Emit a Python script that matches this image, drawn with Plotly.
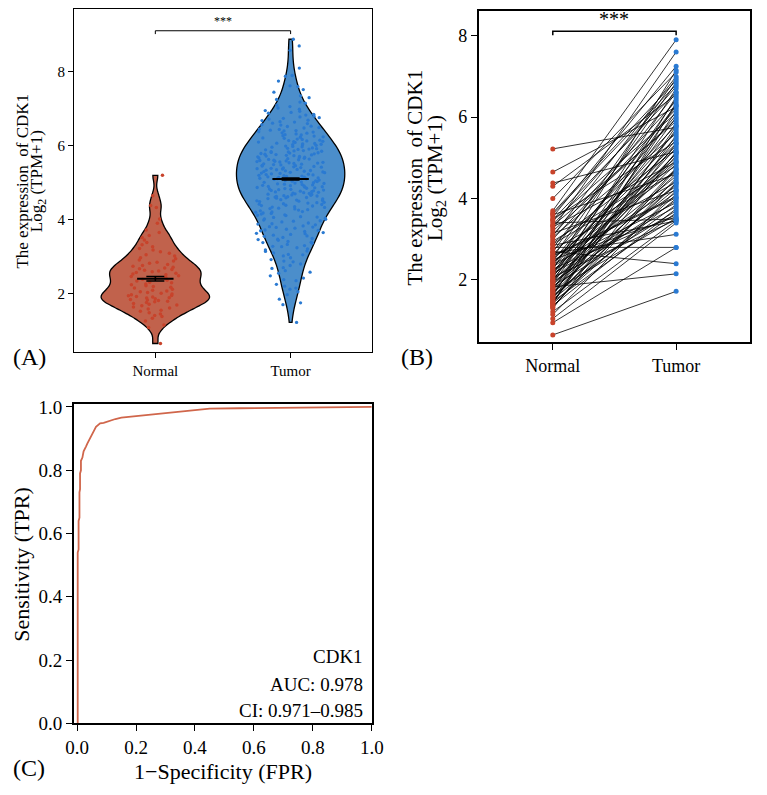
import plotly.graph_objects as go

# ---------------- data ----------------
categories = ["Normal", "Tumor"]

normal_A = [0.65, 1.08, 1.15, 1.26, 1.33, 1.38, 1.41, 1.45, 1.48, 1.52, 1.55, 1.58, 1.61, 1.64,
            1.67, 1.69, 1.71, 1.73, 1.76, 1.78, 1.79, 1.81, 1.83, 1.84, 1.86, 1.88, 1.89, 1.91,
            1.92, 1.94, 1.95, 1.97, 1.99, 2.01, 2.03, 2.05, 2.07, 2.09, 2.12, 2.15, 2.17, 2.19,
            2.21, 2.24, 2.26, 2.29, 2.31, 2.34, 2.36, 2.39, 2.41, 2.44, 2.46, 2.48, 2.51, 2.53,
            2.55, 2.57, 2.59, 2.61, 2.63, 2.65, 2.67, 2.69, 2.71, 2.74, 2.76, 2.79, 2.82, 2.85,
            2.88, 2.91, 2.94, 2.97, 3.02, 3.05, 3.09, 3.13, 3.18, 3.22, 3.27, 3.32, 3.38, 3.45,
            3.52, 3.57, 3.65, 3.72, 3.90, 4.02, 4.33, 4.38, 4.65, 5.20]

tumor_A = [1.22, 1.70, 1.75, 1.85, 1.97, 2.05, 2.12, 2.15, 2.20, 2.25, 2.35, 2.38, 2.42, 2.48,
           2.55, 2.58, 2.62, 2.68, 2.70, 2.76, 2.80, 2.86, 2.88, 2.92, 2.97,
           3.02, 3.05, 3.06, 3.10, 3.14, 3.15, 3.18, 3.21, 3.24, 3.27, 3.28, 3.30, 3.33, 3.36,
           3.38, 3.39, 3.41, 3.44, 3.46, 3.47, 3.49, 3.52, 3.55, 3.56, 3.58, 3.60, 3.62, 3.63,
           3.65, 3.68, 3.70, 3.71, 3.72, 3.74, 3.77, 3.79, 3.80, 3.81, 3.83, 3.86, 3.88, 3.89,
           3.91, 3.94, 3.96, 3.97, 3.99,
           4.01, 4.02, 4.04, 4.06, 4.07, 4.08, 4.11, 4.12, 4.13, 4.15, 4.17, 4.18, 4.20, 4.21,
           4.22, 4.24, 4.26, 4.27, 4.29, 4.30, 4.31, 4.33, 4.34, 4.35, 4.37, 4.38, 4.39, 4.41,
           4.42, 4.43, 4.45, 4.46, 4.47, 4.49, 4.50, 4.51, 4.52, 4.53, 4.54, 4.56, 4.57, 4.58,
           4.59, 4.60, 4.61, 4.62, 4.63, 4.64, 4.65, 4.66, 4.67, 4.68, 4.69, 4.70, 4.71, 4.72,
           4.73, 4.74, 4.75, 4.76, 4.77, 4.78, 4.79, 4.80, 4.81, 4.82, 4.83, 4.84, 4.85, 4.86,
           4.87, 4.88, 4.89, 4.90, 4.91, 4.92, 4.93, 4.94, 4.95, 4.96, 4.97, 4.98, 4.99,
           5.00, 5.01, 5.02, 5.03, 5.04, 5.05, 5.06, 5.07, 5.08, 5.09, 5.10, 5.11, 5.12, 5.13,
           5.14, 5.15, 5.16, 5.17, 5.18, 5.19, 5.20, 5.21, 5.22, 5.23, 5.24, 5.25, 5.26, 5.27,
           5.28, 5.29, 5.30, 5.31, 5.32, 5.33, 5.34, 5.35, 5.36, 5.37, 5.38, 5.39, 5.40, 5.41,
           5.42, 5.43, 5.44, 5.45, 5.46, 5.47, 5.48, 5.49, 5.50, 5.51, 5.52, 5.53, 5.54, 5.55,
           5.56, 5.57, 5.58, 5.59, 5.60, 5.61, 5.62, 5.63, 5.64, 5.65, 5.66, 5.67, 5.68, 5.69,
           5.70, 5.71, 5.72, 5.73, 5.74, 5.75, 5.76, 5.77, 5.78, 5.79, 5.80, 5.81, 5.82, 5.83,
           5.84, 5.85, 5.86, 5.87, 5.89, 5.90, 5.91, 5.92, 5.93, 5.94, 5.96, 5.97, 5.98, 5.99,
           6.01, 6.02, 6.03, 6.04, 6.05, 6.06, 6.07, 6.09, 6.10, 6.11, 6.12, 6.13, 6.14, 6.15,
           6.17, 6.18, 6.20, 6.21, 6.23, 6.24, 6.26, 6.27, 6.29, 6.30, 6.32, 6.34, 6.35, 6.37,
           6.38, 6.40, 6.41, 6.42, 6.44, 6.45, 6.48, 6.49, 6.52, 6.53, 6.56, 6.57, 6.60, 6.61,
           6.64, 6.65, 6.68, 6.69, 6.72, 6.74, 6.76, 6.78, 6.80, 6.83, 6.85, 6.88, 6.90, 6.93,
           6.95, 6.99, 7.02, 7.06, 7.10, 7.15, 7.18, 7.25, 7.30, 7.35, 7.45, 7.52, 7.60, 7.62,
           7.75, 7.88, 7.90, 8.10, 8.58, 8.70, 8.88]

mean_A = [2.40, 5.10]
sem_A = [0.06, 0.03]

normal_B = [5.22, 4.65, 4.38, 4.30, 4.00, 3.70, 3.65, 3.60, 3.55, 3.50, 3.45, 3.40, 3.35, 3.30,
            3.25, 3.20, 3.15, 3.10, 3.05, 3.00, 2.95, 2.90, 2.85, 2.80, 2.78, 2.75, 2.70, 2.66,
            2.62, 2.60, 2.55, 2.52, 2.50, 2.47, 2.44, 2.40, 2.38, 2.35, 2.32, 2.30, 2.27, 2.25,
            2.22, 2.20, 2.17, 2.15, 2.12, 2.10, 2.07, 2.05, 2.02, 2.00, 1.97, 1.95, 1.92, 1.90,
            1.87, 1.85, 1.83, 1.80, 1.77, 1.75, 1.72, 1.70, 1.67, 1.65, 1.62, 1.60, 1.57, 1.55,
            1.52, 1.50, 1.47, 1.45, 1.42, 1.40, 1.37, 1.35, 1.30, 1.22, 1.15, 1.05, 0.95, 0.65,
            3.62, 3.33, 3.08, 2.88, 2.68, 2.42, 2.18, 1.98, 1.78, 1.58, 1.44, 1.33, 3.48, 2.58]
tumor_B = [5.75, 6.25, 5.15, 6.55, 7.10, 7.90, 6.90, 4.60, 7.25, 5.40, 6.10, 3.50, 6.75, 4.90,
           7.60, 5.95, 4.20, 6.40, 5.60, 6.20, 4.80, 5.20, 3.45, 2.80, 6.60, 4.40, 2.40, 3.12,
           5.80, 4.05, 6.85, 5.00, 3.55, 6.05, 4.70, 5.50, 3.90, 6.30, 4.30, 5.65, 3.60, 7.15,
           4.95, 5.30, 3.80, 6.45, 4.55, 5.10, 3.48, 6.70, 4.15, 5.85, 4.85, 3.95, 6.00, 4.45,
           5.25, 3.70, 2.15, 5.45, 4.25, 6.15, 3.52, 5.05, 4.62, 5.70, 3.85, 6.50, 4.35, 5.35,
           4.00, 4.75, 3.65, 5.55, 4.10, 6.35, 3.75, 4.50, 5.15, 3.46, 4.20, 3.40, 2.80, 1.72,
           6.80, 5.90, 7.00, 4.65, 6.95, 5.35, 4.90, 6.28, 5.12, 4.38, 5.78, 4.72, 6.62, 4.02]

roc_fpr = [0.0, 0.002, 0.002, 0.005, 0.005, 0.008, 0.008, 0.010, 0.010, 0.013, 0.013, 0.018,
           0.022, 0.026, 0.030, 0.035, 0.040, 0.045, 0.050, 0.055, 0.060, 0.064, 0.070, 0.078,
           0.090, 0.100, 0.115, 0.130, 0.150, 0.170, 0.200, 0.230, 0.260, 0.300, 0.340, 0.380,
           0.430, 0.450, 0.550, 0.650, 0.750, 0.870, 1.000]
roc_tpr = [0.0, 0.0, 0.540, 0.550, 0.640, 0.650, 0.730, 0.740, 0.790, 0.800, 0.830, 0.840,
           0.860, 0.870, 0.875, 0.885, 0.895, 0.900, 0.910, 0.920, 0.930, 0.937, 0.943, 0.948,
           0.950, 0.953, 0.958, 0.962, 0.966, 0.968, 0.970, 0.973, 0.975, 0.980, 0.985, 0.989,
           0.993, 0.995, 0.996, 0.997, 0.998, 1.000, 1.000]

y_ticks_AB = [2, 4, 6, 8]
roc_ticks = [0.0, 0.2, 0.4, 0.6, 0.8, 1.0]
roc_label_lines = ["CDK1", "AUC: 0.978", "CI: 0.971\u20130.985"]

# ---------------- style ----------------
FONT = "Liberation Serif"
RED_FILL = "#c1624c"
RED_PT = "#c8432b"
BLUE_FILL = "#4b8ecb"
BLUE_PT = "#2a7ad2"
ROC_COL = "#d0664b"
W, H = 767, 795


def px(x):
    return x / W


def py(y):
    return 1 - y / H


def tf(size):
    return dict(family=FONT, size=size, color="black")


fig = go.Figure()

# ---------------- panel A ----------------
fig.add_trace(go.Violin(
    x=[categories[0]] * len(normal_A), y=normal_A, xaxis="x", yaxis="y",
    fillcolor=RED_FILL, line=dict(color="black", width=1.3), opacity=1,
    points="all", pointpos=0, jitter=0.55, width=0.8, scalemode="width",
    spanmode="hard", bandwidth=0.17,
    marker=dict(color=RED_PT, size=3.5), showlegend=False))
fig.add_trace(go.Violin(
    x=[categories[1]] * len(tumor_A), y=tumor_A, xaxis="x", yaxis="y",
    fillcolor=BLUE_FILL, line=dict(color="black", width=1.3), opacity=1,
    points="all", pointpos=0, jitter=0.65, width=0.8, scalemode="width",
    spanmode="hard", bandwidth=0.36,
    marker=dict(color=BLUE_PT, size=3.3), showlegend=False))
fig.add_trace(go.Scatter(
    x=categories, y=mean_A, xaxis="x", yaxis="y", mode="markers",
    marker=dict(symbol="line-ew", size=26, color="black", line=dict(width=2, color="black")),
    error_y=dict(type="data", array=sem_A, color="black", thickness=1.5, width=9),
    showlegend=False))
fig.add_trace(go.Scatter(
    x=[categories[0], categories[0], categories[1], categories[1]],
    y=[9.02, 9.11, 9.11, 9.02], xaxis="x", yaxis="y", mode="lines",
    line=dict(color="black", width=1), showlegend=False))

# ---------------- panel B ----------------
lx, ly = [], []
for n, t in zip(normal_B, tumor_B):
    lx += [categories[0], categories[1], None]
    ly += [n, t, None]
fig.add_trace(go.Scatter(x=lx, y=ly, xaxis="x2", yaxis="y2", mode="lines",
                         line=dict(color="black", width=0.8), showlegend=False))
fig.add_trace(go.Scatter(x=[categories[0]] * len(normal_B), y=normal_B, xaxis="x2", yaxis="y2",
                         mode="markers", marker=dict(color=RED_PT, size=5), showlegend=False))
fig.add_trace(go.Scatter(x=[categories[1]] * len(tumor_B), y=tumor_B, xaxis="x2", yaxis="y2",
                         mode="markers", marker=dict(color=BLUE_PT, size=5), showlegend=False))
fig.add_trace(go.Scatter(
    x=[categories[0], categories[0], categories[1], categories[1]],
    y=[8.01, 8.11, 8.11, 8.01], xaxis="x2", yaxis="y2", mode="lines",
    line=dict(color="black", width=1.5), showlegend=False))

# ---------------- panel C ----------------
fig.add_trace(go.Scatter(x=roc_fpr, y=roc_tpr, xaxis="x3", yaxis="y3", mode="lines",
                         line=dict(color=ROC_COL, width=1.8), showlegend=False))

axis_common = dict(showline=True, mirror=True, linecolor="black", showgrid=False,
                   zeroline=False, ticks="outside", tickcolor="black")

fig.update_layout(
    width=W, height=H, margin=dict(l=0, r=0, t=0, b=0),
    paper_bgcolor="white", plot_bgcolor="white",
    font=dict(family=FONT, color="black"),
    violinmode="overlay",
    xaxis=dict(domain=[px(67), px(373)], anchor="y", type="category",
               categoryorder="array", categoryarray=categories, range=[-0.6, 1.6],
               linewidth=1.3, ticklen=5, tickfont=tf(15), **axis_common),
    yaxis=dict(domain=[py(353), py(2)], anchor="x", range=[0.42, 9.7],
               tickvals=y_ticks_AB, linewidth=1.3, ticklen=5,
               tickfont=tf(15), **axis_common),
    xaxis2=dict(domain=[px(483), px(762)], anchor="y2", type="category",
                categoryorder="array", categoryarray=categories, range=[-0.6, 1.6],
                linewidth=2, ticklen=6, tickfont=tf(18), **axis_common),
    yaxis2=dict(domain=[py(343), py(4)], anchor="x2", range=[0.47, 8.61],
                tickvals=y_ticks_AB, linewidth=2, ticklen=6,
                tickfont=tf(18), **axis_common),
    xaxis3=dict(domain=[px(67), px(373)], anchor="y3", range=[-0.01, 1.0],
                tickvals=roc_ticks, tickformat=".1f", linewidth=2, ticklen=6,
                tickfont=tf(19), **axis_common),
    yaxis3=dict(domain=[py(733), py(406)], anchor="x3", range=[0, 1.01],
                tickvals=roc_ticks, tickformat=".1f", linewidth=2, ticklen=6,
                tickfont=tf(19), **axis_common),
)

ann = []


def add_text(x, y, text, size, angle=0, xanchor="center", xref="paper", yref="paper",
             yanchor="middle"):
    ann.append(dict(x=x, y=y, xref=xref, yref=yref, text=text, showarrow=False,
                    textangle=angle, xanchor=xanchor, yanchor=yanchor, font=tf(size)))


# significance stars
add_text(0.5, 9.13, "***", 12, xref="x", yref="y", yanchor="bottom")
add_text(0.5, 8.09, "***", 20, xref="x2", yref="y2", yanchor="bottom")
# y titles A
add_text(px(14), py(178), "The expression  of CDK1", 17, angle=-90)
add_text(px(30), py(178), "Log<sub>2</sub> (TPM+1)", 17, angle=-90)
# y titles B
add_text(px(417), py(175), "The expression  of CDK1", 21, angle=-90)
add_text(px(439), py(175), "Log<sub>2</sub> (TPM+1)", 21, angle=-90)
# titles C
add_text(px(220), py(782), "1\u2212Specificity (FPR)", 22)
add_text(px(12), py(570), "Sensitivity (TPR)", 22, angle=-90)
# ROC labels
for txt, yy in zip(roc_label_lines, [665, 693, 720]):
    add_text(px(366), py(yy), txt, 19, xanchor="right")
# panel labels
add_text(px(2), py(358), "(A)", 24, xanchor="left")
add_text(px(401), py(358), "(B)", 24, xanchor="left")
add_text(px(2), py(779), "(C)", 24, xanchor="left")
fig.update_layout(annotations=ann)

fig.write_html("out.html")
